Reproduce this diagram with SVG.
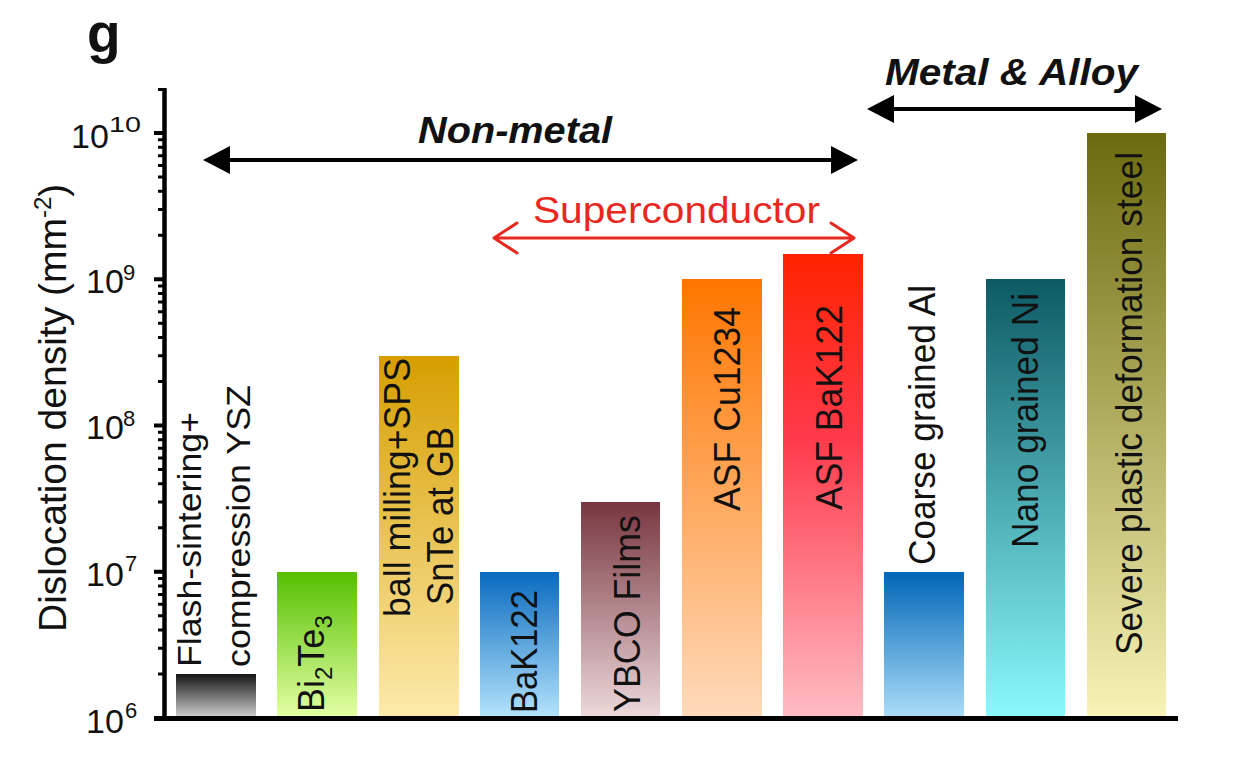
<svg xmlns="http://www.w3.org/2000/svg" width="1242" height="764" viewBox="0 0 1242 764">
<style>
text{font-family:"Liberation Sans",Arial,Helvetica,sans-serif;fill:#111}
.lab{font-size:36px}
.tick{font-size:34px}
.sup{font-size:22px}
.hdr{font-size:37px;font-weight:bold;font-style:italic}
.ax{stroke:#000;fill:none}
.blk{stroke:#000;stroke-width:4;fill:none}
.red{stroke:#e8281e;stroke-width:3;fill:none;stroke-linecap:round;stroke-linejoin:round}
</style>
<defs>
<linearGradient id="g1" x1="0" y1="0" x2="0" y2="1"><stop offset="0" stop-color="#151515"/><stop offset="1" stop-color="#c9c9c9"/></linearGradient>
<linearGradient id="g2" x1="0" y1="0" x2="0" y2="1"><stop offset="0" stop-color="#56bf00"/><stop offset="1" stop-color="#e2ffa4"/></linearGradient>
<linearGradient id="g3" x1="0" y1="0" x2="0" y2="1"><stop offset="0" stop-color="#d69e00"/><stop offset="1" stop-color="#fdeaac"/></linearGradient>
<linearGradient id="g4" x1="0" y1="0" x2="0" y2="1"><stop offset="0" stop-color="#0a6abf"/><stop offset="1" stop-color="#b2e2fb"/></linearGradient>
<linearGradient id="g5" x1="0" y1="0" x2="0" y2="1"><stop offset="0" stop-color="#783640"/><stop offset="1" stop-color="#ecd8da"/></linearGradient>
<linearGradient id="g6" x1="0" y1="0" x2="0" y2="1"><stop offset="0" stop-color="#ff7600"/><stop offset="1" stop-color="#ffdabb"/></linearGradient>
<linearGradient id="g7" x1="0" y1="0" x2="0" y2="1"><stop offset="0" stop-color="#ff2200"/><stop offset="0.4" stop-color="#ff3a4c"/><stop offset="1" stop-color="#ffbcc3"/></linearGradient>
<linearGradient id="g8" x1="0" y1="0" x2="0" y2="1"><stop offset="0" stop-color="#0066b6"/><stop offset="1" stop-color="#aadcf9"/></linearGradient>
<linearGradient id="g9" x1="0" y1="0" x2="0" y2="1"><stop offset="0" stop-color="#0d5a64"/><stop offset="1" stop-color="#8af9fd"/></linearGradient>
<linearGradient id="g10" x1="0" y1="0" x2="0" y2="1"><stop offset="0" stop-color="#6c6a0e"/><stop offset="1" stop-color="#f8f3b6"/></linearGradient>
</defs>
<rect width="1242" height="764" fill="#fff"/>

<text x="87" y="52" style="font-size:55px;font-weight:bold">g</text>

<g id="axes">
<text class="tick" x="71" y="148">10</text><text class="sup" x="109" y="132" textLength="32" lengthAdjust="spacingAndGlyphs">10</text>
<text class="tick" x="86" y="293">10</text><text class="sup" x="123" y="280">9</text>
<text class="tick" x="86" y="439">10</text><text class="sup" x="123" y="426">8</text>
<text class="tick" x="86" y="586">10</text><text class="sup" x="125" y="571">7</text>
<text class="tick" x="86" y="733">10</text><text class="sup" x="125" y="718">6</text>
<text transform="translate(66,632) rotate(-90)" style="font-size:39px">Dislocation density (mm<tspan style="font-size:24px" dy="-15">-2</tspan><tspan dy="15">)</tspan></text>
<path class="ax" stroke-width="4.5" d="M164.5 88V719"/>
<path class="ax" stroke-width="4" d="M154 133H165M154 279.25H165M154 425.5H165M154 571.75H165"/>
<path class="ax" stroke-width="3" d="M158 89.5H165M158 139.65H165M158 147.15H165M158 155.65H165M158 165.45H165M158 177.05H165M158 191.15H165M158 209.45H165M158 235.25H165M158 285.9H165M158 293.4H165M158 301.9H165M158 311.7H165M158 323.3H165M158 337.4H165M158 355.7H165M158 381.5H165M158 432.15H165M158 439.65H165M158 448.15H165M158 457.95H165M158 469.55H165M158 483.65H165M158 501.95H165M158 527.75H165M158 578.4H165M158 585.9H165M158 594.4H165M158 604.2H165M158 615.8H165M158 629.9H165M158 648.2H165M158 674H165"/>
<path class="ax" stroke-width="5" d="M154 718.5H1178"/>
</g>

<g id="bar-flash">
<rect x="176" y="674" width="80" height="42" fill="url(#g1)"/>
<text class="lab" transform="translate(201,667) rotate(-90)" style="font-size:33px" textLength="255" lengthAdjust="spacingAndGlyphs">Flash-sintering+</text>
<text class="lab" transform="translate(250,667) rotate(-90)" style="font-size:34px" textLength="282" lengthAdjust="spacingAndGlyphs">compression YSZ</text>
</g>
<g id="bar-bi2te3">
<rect x="277" y="572" width="80" height="144" fill="url(#g2)"/>
<text class="lab" transform="translate(324,712) rotate(-90)">Bi<tspan style="font-size:24px" dy="8">2</tspan><tspan dy="-8">Te</tspan><tspan style="font-size:24px" dy="8">3</tspan></text>
</g>
<g id="bar-snte">
<rect x="379" y="356" width="80" height="360" fill="url(#g3)"/>
<text class="lab" transform="translate(410,617) rotate(-90)" textLength="259" lengthAdjust="spacingAndGlyphs">ball milling+SPS</text>
<text class="lab" transform="translate(453,605) rotate(-90)" textLength="178" lengthAdjust="spacingAndGlyphs">SnTe at GB</text>
</g>
<g id="bar-bak122">
<rect x="480" y="572" width="79" height="144" fill="url(#g4)"/>
<text class="lab" transform="translate(537,713) rotate(-90)" textLength="123" lengthAdjust="spacingAndGlyphs">BaK122</text>
</g>
<g id="bar-ybco">
<rect x="581" y="502" width="79" height="214" fill="url(#g5)"/>
<text class="lab" transform="translate(640,712) rotate(-90)" textLength="197" lengthAdjust="spacingAndGlyphs">YBCO Films</text>
</g>
<g id="bar-asf-cu1234">
<rect x="682" y="279" width="80" height="437" fill="url(#g6)"/>
<text class="lab" transform="translate(740,511) rotate(-90)" textLength="204" lengthAdjust="spacingAndGlyphs">ASF Cu1234</text>
</g>
<g id="bar-asf-bak122">
<rect x="783" y="254" width="80" height="462" fill="url(#g7)"/>
<text class="lab" transform="translate(842,510) rotate(-90)" textLength="205" lengthAdjust="spacingAndGlyphs">ASF BaK122</text>
</g>
<g id="bar-coarse-al">
<rect x="884" y="572" width="80" height="144" fill="url(#g8)"/>
<text class="lab" transform="translate(935,565) rotate(-90)" textLength="280" lengthAdjust="spacingAndGlyphs">Coarse grained Al</text>
</g>
<g id="bar-nano-ni">
<rect x="986" y="279" width="79" height="437" fill="url(#g9)"/>
<text class="lab" transform="translate(1038,548) rotate(-90)" textLength="255" lengthAdjust="spacingAndGlyphs">Nano grained Ni</text>
</g>
<g id="bar-spd-steel">
<rect x="1087" y="133" width="79" height="583" fill="url(#g10)"/>
<text class="lab" transform="translate(1142,655) rotate(-90)" textLength="503" lengthAdjust="spacingAndGlyphs">Severe plastic deformation steel</text>
</g>

<g id="connectors">
<path class="blk" d="M225 160H836"/>
<path d="M203 160L230 146V174Z M858 160L831 146V174Z" fill="#000"/>
<path class="blk" d="M889 109H1140"/>
<path d="M867 109L894 95V123Z M1162 109L1135 95V123Z" fill="#000"/>
<path class="red" d="M494 238H854 M517 223L494 238L517 253 M831 223L854 238L831 253"/>
</g>
<g id="headers">
<text class="hdr" x="418" y="143" textLength="194" lengthAdjust="spacingAndGlyphs">Non-metal</text>
<text class="hdr" x="885" y="85" textLength="253" lengthAdjust="spacingAndGlyphs">Metal &amp; Alloy</text>
<text x="533" y="223" style="font-size:37px;fill:#e8281e" textLength="287" lengthAdjust="spacingAndGlyphs">Superconductor</text>
</g>
</svg>
